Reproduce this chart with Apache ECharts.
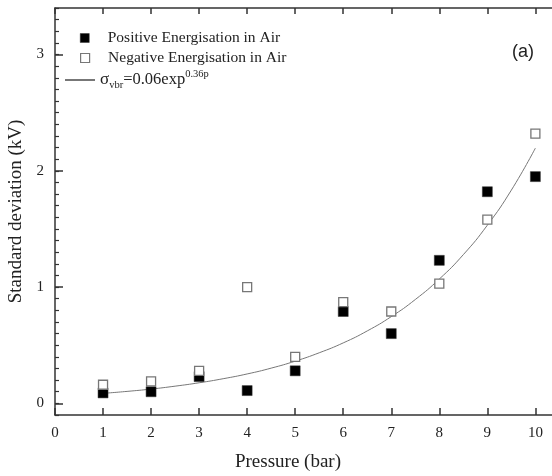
<!DOCTYPE html>
<html><head><meta charset="utf-8">
<script src="https://cdn.jsdelivr.net/npm/echarts@6/dist/echarts.min.js"></script>
<style>html,body{margin:0;padding:0;background:#fff}#c{width:552px;height:476px}</style>
</head><body><div id="c"></div>
<script>
const pressure = [1,2,3,4,5,6,7,8,9,10];
const positive = [0.09,0.10,0.23,0.11,0.28,0.79,0.60,1.23,1.82,1.95];
const negative = [0.16,0.19,0.28,1.00,0.40,0.87,0.79,1.03,1.58,2.32];
const fitP = [1,1.5,2,2.5,3,3.5,4,4.5,5,5.5,6,6.5,7,7.5,8,8.5,9,9.5,10];
const fitV = [0.086,0.103,0.123,0.148,0.177,0.212,0.253,0.303,0.363,0.435,0.520,0.623,0.746,0.893,1.069,1.279,1.532,1.834,2.195];
const xTicks = [0,1,2,3,4,5,6,7,8,9,10];
const yMajor = [0,1,2,3];
const yMinor = [];
for (let i = -1; i <= 34; i++) yMinor.push(+(i/10).toFixed(1));
const names = ['Positive Energisation in Air','Negative Energisation in Air','fit'];

const serif = 'Liberation Serif';
const axisCol = '#333';
const chart = echarts.init(document.getElementById('c'));
const yBase = {type:'value', min:-0.1, max:3.4, splitLine:{show:false}};
const sq = 'path://M0,0L1,0L1,1L0,1Z';
chart.setOption({
  animation:false,
  title:{text:'(a)', left:507, top:38, textStyle:{fontFamily:'Liberation Sans', fontSize:18, fontWeight:'normal', color:'#222'}},
  grid:{left:55, top:8, width:502, height:407, containLabel:false, outerBoundsMode:'none'},
  legend:[
    {data:[{name:names[0], icon:sq, itemStyle:{color:'#000', borderColor:'#333', borderWidth:0.5}}],
     left:75, top:25, itemWidth:36, itemHeight:9, textStyle:{fontFamily:serif, fontSize:15.5, color:'#222'}},
    {data:[{name:names[1], icon:sq, itemStyle:{color:'#fff', borderColor:'#777', borderWidth:1.2}}],
     left:75, top:45, itemWidth:36, itemHeight:9, textStyle:{fontFamily:serif, fontSize:15.5, color:'#222'}},
    {data:[{name:names[2], itemStyle:{color:'transparent', borderColor:'transparent', borderWidth:0, opacity:0}}],
     left:59, top:64, itemWidth:30, itemHeight:10,
     formatter:function(){return '{s|σ}{sub|vbr}{n|=0.06exp}{sup|0.36p}';},
     textStyle:{fontFamily:serif, fontSize:16, color:'#222',
       rich:{s:{fontFamily:serif,fontSize:17,color:'#222',lineHeight:22,verticalAlign:'middle'},
             sub:{fontFamily:serif,fontSize:10.5,color:'#222',lineHeight:22,verticalAlign:'bottom'},
             n:{fontFamily:serif,fontSize:16.5,color:'#222',lineHeight:22,verticalAlign:'middle'},
             sup:{fontFamily:serif,fontSize:10.5,color:'#222',lineHeight:22,verticalAlign:'top'}}}}
  ],
  xAxis:[
    {type:'value', min:0, max:10.45, interval:1, position:'bottom',
     name:'Pressure (bar)', nameLocation:'middle', nameGap:38,
     nameTextStyle:{fontFamily:serif, fontSize:19, color:'#222', padding:[0,36,0,0]},
     axisLine:{onZero:false, lineStyle:{color:axisCol, width:1.5}},
     axisTick:{inside:true, length:7, lineStyle:{color:axisCol, width:1.5}},
     axisLabel:{fontFamily:serif, fontSize:15, color:'#222', margin:11, formatter:function(v){return xTicks.indexOf(v)>=0?String(v):'';}},
     splitLine:{show:false}},
    {type:'value', min:0, max:10.45, interval:1, position:'top',
     axisLine:{onZero:false, lineStyle:{color:axisCol, width:1.5}},
     axisTick:{inside:true, length:6, lineStyle:{color:axisCol, width:1.5}},
     axisLabel:{show:false}, splitLine:{show:false}}
  ],
  yAxis:[
    Object.assign({}, yBase, {position:'left',
     name:'Standard deviation (kV)', nameLocation:'middle', nameGap:28,
     nameTextStyle:{fontFamily:serif, fontSize:19, color:'#222'},
     axisLine:{show:true, onZero:false, lineStyle:{color:axisCol, width:1.5}},
     axisTick:{inside:true, length:8, customValues:yMajor, lineStyle:{color:axisCol, width:1.5}},
     axisLabel:{fontFamily:serif, fontSize:15, color:'#222', margin:11, customValues:yMajor}}),
    Object.assign({}, yBase, {position:'left',
     axisLine:{show:false, onZero:false},
     axisTick:{inside:true, length:4, customValues:yMinor, lineStyle:{color:axisCol, width:1.2}},
     axisLabel:{show:false}}),
    Object.assign({}, yBase, {position:'right',
     axisLine:{show:true, onZero:false, lineStyle:{color:axisCol, width:1.5}},
     axisTick:{inside:true, length:5, customValues:yMajor, lineStyle:{color:axisCol, width:1.5}},
     axisLabel:{show:false}})
  ],
  series:[
    {name:names[2], type:'line', smooth:true, showSymbol:false, symbol:'none', z:2,
     data:fitP.map((p,i)=>[p,fitV[i]]), lineStyle:{color:'#777', width:1}, itemStyle:{color:'#777'}},
    {name:names[0], type:'scatter', symbol:'rect', symbolSize:10, z:3,
     data:pressure.map((p,i)=>[p,positive[i]]), itemStyle:{color:'#000', borderColor:'#333', borderWidth:0.5, opacity:1}},
    {name:names[1], type:'scatter', symbol:'rect', symbolSize:9, z:4,
     data:pressure.map((p,i)=>[p,negative[i]]), itemStyle:{color:'#fff', borderColor:'#777', borderWidth:1.3, opacity:1}}
  ]
});
</script></body></html>
